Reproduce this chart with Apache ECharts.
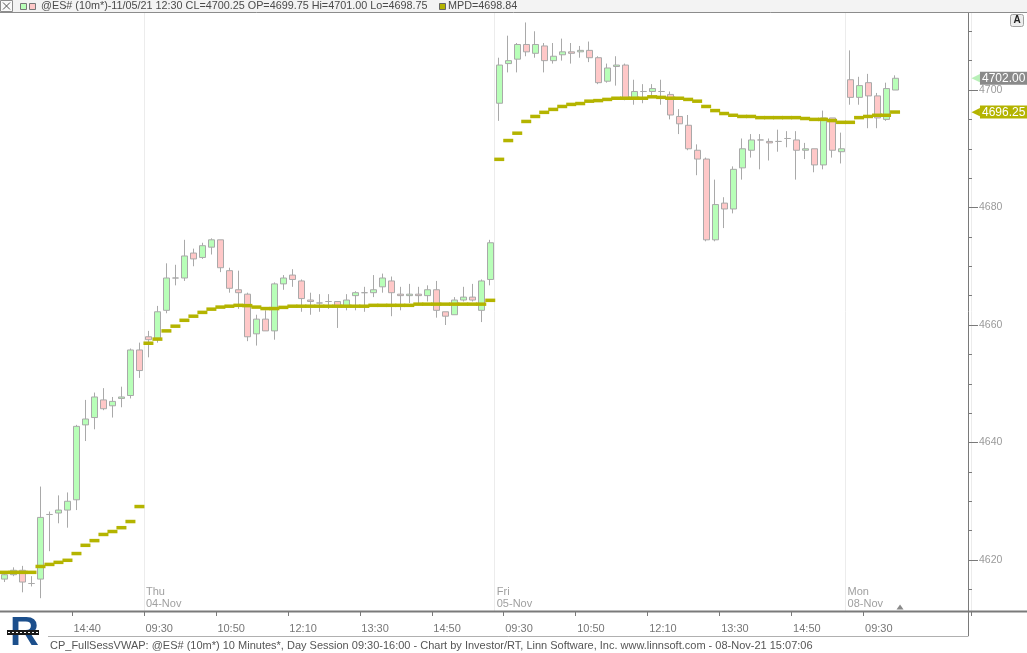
<!DOCTYPE html>
<html><head><meta charset="utf-8">
<script src="https://cdn.jsdelivr.net/npm/echarts@6/dist/echarts.min.js"></script>
<style>html,body{margin:0;padding:0;background:#fff;overflow:hidden}#c{width:1027px;height:653px}</style>
</head><body><div id="c"></div>
<script>
// ---- data ----
const SESSIONS = [
  ['Wed', '03-Nov', '13:20', 16],
  ['Thu', '04-Nov', '09:30', 39],
  ['Fri', '05-Nov', '09:30', 39],
  ['Mon', '08-Nov', '09:30', 6]
];
const EMPTY_SLOTS = 8;

const OPEN = [4616.75,4617.5,4618.25,4616.0,4616.75,4627.75,4628.0,4628.5,4630.25,4643.0,
  4644.25,4647.25,4646.25,4647.5,4648.0,4655.75,4658.0,4657.75,4662.5,4668.0,
  4668.0,4672.25,4671.5,4673.25,4674.5,4669.25,4666.0,4665.25,4658.5,4661.0,
  4659.0,4667.0,4668.5,4667.5,4664.25,4663.75,4664.0,4664.0,4663.25,4665.0,
  4665.5,4665.5,4666.5,4667.5,4665.25,4665.0,4665.25,4665.0,4666.0,4662.25,
  4661.75,4664.25,4664.75,4662.5,4667.75,4697.75,4704.5,4705.25,4707.75,4706.25,
  4707.5,4705.0,4706.0,4706.5,4706.5,4706.75,4705.5,4701.5,4704.0,4704.25,
  4698.75,4699.75,4699.75,4699.75,4699.25,4695.5,4694.0,4689.75,4688.25,4674.5,
  4680.75,4679.75,4686.75,4689.75,4691.5,4691.25,4691.25,4691.75,4691.5,4689.75,
  4690.0,4687.25,4695.25,4689.5,4701.75,4698.75,4701.25,4699.0,4695.0,4700.0];
const CLOSE = [4617.5,4618.25,4616.25,4616.0,4627.25,4627.75,4628.5,4630.0,4642.75,4644.0,
  4647.75,4645.75,4647.0,4647.75,4655.75,4652.25,4657.5,4662.25,4668.0,4668.0,
  4671.75,4671.25,4673.5,4674.5,4669.75,4666.25,4665.5,4658.0,4661.0,4659.0,
  4667.0,4668.0,4667.75,4664.5,4664.0,4663.75,4664.0,4663.25,4664.25,4665.5,
  4665.5,4666.0,4668.0,4665.5,4665.0,4665.25,4665.0,4666.0,4662.5,4661.5,
  4664.25,4664.75,4664.25,4667.5,4674.0,4704.25,4705.0,4707.75,4706.5,4707.75,
  4705.0,4705.75,4706.5,4706.25,4706.75,4705.5,4701.25,4703.75,4704.25,4698.5,
  4699.75,4699.75,4700.25,4699.75,4695.75,4694.25,4690.0,4688.25,4674.5,4680.5,
  4679.75,4686.5,4690.0,4691.5,4691.5,4691.0,4691.25,4691.75,4689.75,4690.0,
  4687.25,4695.25,4689.75,4690.0,4698.75,4700.75,4699.0,4695.25,4700.25,4702.0];
const LOW = [4616.25,4617.25,4614.5,4615.5,4613.5,4621.5,4626.25,4625.5,4628.5,4640.25,
  4642.25,4645.5,4644.25,4646.0,4647.5,4651.0,4654.5,4657.0,4662.0,4666.75,
  4667.5,4670.0,4671.25,4672.0,4669.0,4665.5,4662.75,4657.25,4656.5,4659.0,
  4657.5,4666.0,4666.5,4662.25,4661.75,4662.25,4662.75,4659.5,4662.5,4662.5,
  4662.25,4664.75,4665.5,4661.5,4662.5,4663.75,4663.75,4664.0,4661.25,4660.0,
  4661.75,4664.0,4664.0,4660.5,4666.75,4694.75,4703.0,4703.0,4705.75,4705.5,
  4703.0,4704.5,4705.0,4704.5,4705.5,4704.75,4701.0,4701.25,4700.75,4698.25,
  4697.5,4697.75,4698.75,4697.5,4695.0,4692.5,4689.75,4685.5,4674.25,4674.25,
  4676.5,4679.0,4684.75,4688.5,4686.5,4688.0,4689.5,4690.25,4684.75,4688.25,
  4686.0,4686.5,4688.5,4687.5,4697.5,4697.5,4693.5,4693.5,4694.75,4700.0];
const HIGH = [4617.75,4618.75,4619.0,4617.25,4632.5,4628.25,4631.0,4631.5,4643.0,4647.25,
  4648.5,4649.25,4647.75,4649.5,4656.0,4657.0,4659.0,4663.25,4670.5,4670.25,
  4674.5,4673.0,4674.0,4674.75,4674.5,4669.75,4669.25,4665.5,4661.75,4662.5,
  4667.25,4668.5,4669.5,4667.75,4665.5,4665.25,4665.25,4664.0,4665.25,4665.75,
  4666.5,4668.5,4668.75,4668.25,4666.5,4667.0,4666.5,4666.75,4667.5,4662.25,
  4664.75,4666.5,4667.0,4667.75,4674.5,4705.5,4709.25,4708.0,4711.5,4710.0,
  4708.0,4708.0,4708.75,4708.0,4707.5,4708.25,4705.75,4704.5,4705.75,4704.5,
  4701.75,4701.0,4701.0,4701.75,4699.75,4696.75,4695.75,4690.75,4688.5,4684.75,
  4681.75,4687.0,4691.75,4692.5,4692.5,4691.75,4693.25,4693.0,4693.0,4691.0,
  4690.0,4696.5,4695.25,4692.75,4706.75,4702.25,4702.75,4699.5,4701.25,4702.5];
// full-session VWAP, one value per bar
const VWAP = [4617.9,4617.9,4617.9,4617.9,4618.9,4619.25,4619.6,4619.95,4621.1,4622.5,
  4623.3,4624.35,4624.85,4625.5,4626.55,4629.1,4656.9,4657.6,4659.0,4659.8,
  4660.8,4661.5,4662.15,4662.7,4663.05,4663.2,4663.35,4663.3,4663.05,4662.8,
  4662.8,4663.0,4663.2,4663.2,4663.2,4663.2,4663.2,4663.2,4663.2,4663.2,
  4663.2,4663.35,4663.35,4663.35,4663.35,4663.35,4663.55,4663.55,4663.55,4663.55,
  4663.55,4663.55,4663.55,4663.55,4664.2,4688.2,4691.4,4692.65,4694.65,4695.5,
  4696.2,4696.7,4697.2,4697.55,4697.7,4698.1,4698.2,4698.4,4698.6,4698.6,
  4698.6,4698.6,4698.84,4698.75,4698.6,4698.6,4698.4,4698.1,4697.2,4696.5,
  4696.0,4695.7,4695.5,4695.5,4695.3,4695.3,4695.3,4695.3,4695.3,4695.15,
  4695.0,4695.0,4694.8,4694.5,4694.5,4695.3,4695.5,4695.7,4695.7,4696.25];

const Y_LABEL_TICKS = [4620, 4640, 4660, 4680, 4700];
const Y_MINOR_TICKS = [4615,4620,4625,4630,4635,4640,4645,4650,4655,4660,4665,4670,4675,4680,4685,4690,4695,4700,4705,4710];
const TIME_TICK_LABELS = ['14:40','09:30','10:50','12:10','13:30','14:50','09:30','10:50','12:10','13:30','14:50','09:30'];
const TIME_TICK_STEP = 8;
const Y_MIN = 4611.32, Y_MAX = 4713.28;
const HOVER_BAR = 72;
const LAST_PRICE = 4702.00;
const LAST_VWAP = 4696.25;

// ---- derived ----
function sessionTimes(start, n) {
  let [h, m] = start.split(':').map(Number);
  const out = [];
  for (let k = 0; k < n; k++) {
    out.push(String(h).padStart(2, '0') + ':' + String(m).padStart(2, '0'));
    m += 10; if (m >= 60) { m -= 60; h += 1; }
  }
  return out;
}
const categories = [];
const dayStart = [];
const dayText = [];
SESSIONS.forEach((s, k) => {
  if (k > 0) { dayStart.push(categories.length); dayText.push(s[0] + '\n' + s[1]); }
  sessionTimes(s[2], s[3]).forEach(t => categories.push(s[1] + ' ' + t));
});
for (let k = 0; k < EMPTY_SLOTS; k++) categories.push('');

const candleData = OPEN.map((o, i) => [o, CLOSE[i], LOW[i], HIGH[i]]);
const vwapData = VWAP.map((v, i) => [i, v]);

const FONT = 'Liberation Sans, Arial, sans-serif';
const timeTickShown = i => i > 0 && i % TIME_TICK_STEP === 0 && i / TIME_TICK_STEP <= TIME_TICK_LABELS.length;
const dayShown = i => dayStart.indexOf(i) >= 0;

const headerText = '@ES# (10m*)-11/05/21 12:30 CL=' + CLOSE[HOVER_BAR].toFixed(2) +
  ' OP=' + OPEN[HOVER_BAR].toFixed(2) + ' Hi=' + HIGH[HOVER_BAR].toFixed(2) + ' Lo=' + LOW[HOVER_BAR].toFixed(2);

function priceTag(value, arrowColor, boxColor) {
  return {
    yAxis: value,
    lineStyle: {color: 'rgba(0,0,0,0)', width: 0},
    label: {
      show: true, position: 'end', distance: 0,
      formatter: '{a|◀}{b|' + value.toFixed(2) + '}',
      rich: {
        a: {color: arrowColor, fontSize: 11, fontFamily: 'DejaVu Sans', padding: [0, 0, 0, 0]},
        b: {color: '#ffffff', backgroundColor: boxColor, fontSize: 12, padding: [1, 2, 0, 2], fontFamily: FONT}
      }
    }
  };
}

const chart = echarts.init(document.getElementById('c'), null, {renderer: 'canvas'});
chart.setOption({
  animation: false,
  backgroundColor: '#ffffff',
  textStyle: {fontFamily: FONT},
  grid: {left: -0.5, right: 55.5, top: 12, bottom: 42, containLabel: false},
  xAxis: [
    {
      type: 'category', data: categories, position: 'bottom', boundaryGap: true,
      axisLine: {show: false},
      axisTick: {show: true, interval: (i) => timeTickShown(i), length: 5, lineStyle: {color: '#7a7a7a'}},
      axisLabel: {
        interval: (i) => timeTickShown(i),
        formatter: (v, i) => TIME_TICK_LABELS[i / TIME_TICK_STEP - 1] || '',
        align: 'left', padding: [0, 0, 0, -3], margin: 12,
        color: '#777777', fontSize: 11, fontFamily: FONT
      },
      splitLine: {show: false}
    },
    {
      type: 'category', data: categories, position: 'bottom', boundaryGap: true,
      axisLine: {show: false}, axisTick: {show: false},
      axisLabel: {
        inside: true, interval: (i) => dayShown(i),
        formatter: (v, i) => dayText[dayStart.indexOf(i)] || '',
        align: 'left', padding: [0, 0, 0, -2.5], margin: 1, lineHeight: 12,
        color: '#a0a0a0', fontSize: 11, fontFamily: FONT
      },
      splitLine: {show: true, interval: (i) => dayShown(i), lineStyle: {color: '#ececec', width: 1}}
    }
  ],
  yAxis: [
    {
      type: 'value', position: 'right', offset: -3.5, min: Y_MIN, max: Y_MAX,
      axisLine: {show: true, lineStyle: {color: '#7a7a7a'}},
      axisTick: {show: true, customValues: Y_LABEL_TICKS, length: 10, lineStyle: {color: '#7a7a7a'}},
      axisLabel: {customValues: Y_LABEL_TICKS, formatter: (v) => String(Math.round(v)),
        color: '#9a9a9a', fontSize: 10.5, margin: 11, padding: [0, 0, 6, 0], fontFamily: FONT},
      splitLine: {show: false}
    },
    {
      type: 'value', position: 'right', offset: -3.5, min: Y_MIN, max: Y_MAX,
      axisLine: {show: false},
      axisTick: {show: true, customValues: Y_MINOR_TICKS, length: 4, lineStyle: {color: '#7a7a7a'}},
      axisLabel: {show: false},
      splitLine: {show: false}
    }
  ],
  series: [
    {
      type: 'candlestick', name: '@ES#', xAxisIndex: 0, yAxisIndex: 0,
      data: candleData, barWidth: 6.5, clip: false,
      itemStyle: {color: '#b8ffb8', color0: '#ffc8c8', borderColor: '#a9a9a9', borderColor0: '#a9a9a9',
        borderColorDoji: '#a9a9a9', borderWidth: 1},
      silent: true, z: 2,
      markLine: {
        silent: true, symbol: ['none', 'none'], animation: false,
        data: [priceTag(LAST_PRICE, '#b8f0b8', '#8a8a8a'), priceTag(LAST_VWAP, '#b4b400', '#b4b400')]
      },
      markPoint: {
        silent: true, animation: false,
        data: [{coord: [OPEN.length - 1, Y_MIN], symbol: 'triangle', symbolSize: [7, 5], symbolOffset: [5, -4],
          itemStyle: {color: '#8a8a8a'}, label: {show: false}}]
      }
    },
    {
      type: 'scatter', name: 'MPD', xAxisIndex: 0, yAxisIndex: 0,
      data: vwapData, symbol: 'rect', symbolSize: [10, 3.5],
      itemStyle: {color: '#b4b400', opacity: 1}, silent: true, z: 3
    }
  ],
  graphic: [
    {type: 'rect', shape: {x: 0, y: 0, width: 1027, height: 12}, style: {fill: '#f3f3f3'}, z: 100},
    {type: 'line', shape: {x1: 0, y1: 12.5, x2: 1027, y2: 12.5}, style: {stroke: '#8c8c8c', lineWidth: 1}, z: 101},
    {type: 'rect', shape: {x: 0.5, y: 0.5, width: 12, height: 11}, style: {fill: '#fafafa', stroke: '#8c8c8c'}, z: 101},
    {type: 'line', shape: {x1: 3, y1: 2.5, x2: 10, y2: 9.5}, style: {stroke: '#555', lineWidth: 1}, z: 102},
    {type: 'line', shape: {x1: 10, y1: 2.5, x2: 3, y2: 9.5}, style: {stroke: '#555', lineWidth: 1}, z: 102},
    {type: 'rect', shape: {x: 20.5, y: 3.5, width: 6, height: 6}, style: {fill: '#b8ffb8', stroke: '#777'}, z: 101},
    {type: 'rect', shape: {x: 29.5, y: 3.5, width: 6, height: 6}, style: {fill: '#ffc8c8', stroke: '#777'}, z: 101},
    {type: 'text', x: 41, y: 6.5, style: {text: headerText, fill: '#4a4a4a', font: '10.8px ' + FONT, verticalAlign: 'middle'}, z: 101},
    {type: 'rect', shape: {x: 439.5, y: 3.5, width: 6, height: 6}, style: {fill: '#b4b400', stroke: '#666'}, z: 101},
    {type: 'text', x: 448, y: 6.5, style: {text: 'MPD=' + VWAP[HOVER_BAR].toFixed(2), fill: '#4a4a4a', font: '10.8px ' + FONT, verticalAlign: 'middle'}, z: 101},
    {type: 'rect', shape: {x: 1010.5, y: 14.5, width: 13, height: 12, r: 2}, style: {fill: '#eeeeee', stroke: '#a0a0a0'}, z: 101},
    {type: 'text', x: 1017, y: 20.5, style: {text: 'A', fill: '#222', font: 'bold 10px ' + FONT, align: 'center', verticalAlign: 'middle'}, z: 102},
    {type: 'line', shape: {x1: 0, y1: 611.5, x2: 1027, y2: 611.5}, style: {stroke: '#7a7a7a', lineWidth: 2}, z: 100},
    {type: 'line', shape: {x1: 968.5, y1: 611, x2: 968.5, y2: 636}, style: {stroke: '#7a7a7a', lineWidth: 1}, z: 100},
    {type: 'line', shape: {x1: 48, y1: 636.5, x2: 968.5, y2: 636.5}, style: {stroke: '#b0b0b0', lineWidth: 1}, z: 100},
    {type: 'text', x: 10, y: 614, style: {text: 'R', fill: '#1c4f8c', font: 'bold 40px Liberation Sans, sans-serif'}, z: 100},
    {type: 'rect', shape: {x: 7, y: 630, width: 32, height: 5}, style: {fill: '#1a1a1a'}, z: 101},
    {type: 'line', shape: {x1: 8, y1: 632.5, x2: 38, y2: 632.5}, style: {stroke: '#ffffff', lineWidth: 1, lineDash: [2, 2]}, z: 102},
    {type: 'text', x: 50, y: 646, style: {text: 'CP_FullSessVWAP: @ES# (10m*) 10 Minutes*, Day Session 09:30-16:00 - Chart by Investor/RT, Linn Software, Inc. www.linnsoft.com - 08-Nov-21 15:07:06',
      fill: '#555555', font: '11px ' + FONT, verticalAlign: 'middle'}, z: 100}
  ]
});
</script>
</body></html>
